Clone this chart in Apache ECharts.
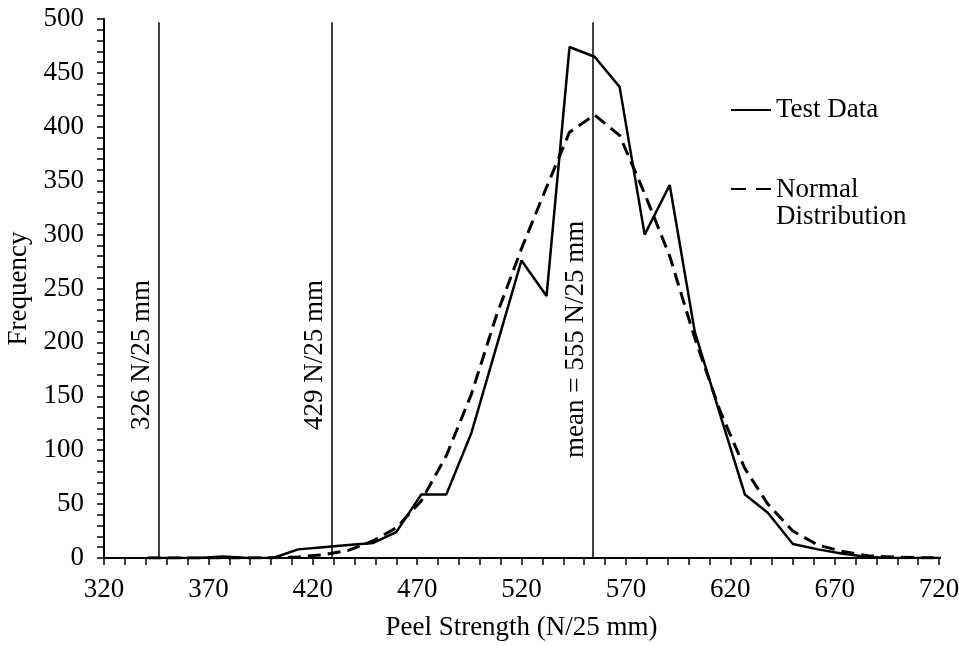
<!DOCTYPE html>
<html><head><meta charset="utf-8">
<script src="https://cdn.jsdelivr.net/npm/echarts@6/dist/echarts.min.js"></script>
<style>html,body{margin:0;padding:0;background:#fff}#c{width:959px;height:646px}</style>
</head><body><div id="c"></div>
<script>
const peelStrength = [341,353,365,377,389,401,413,425,437,449,460,472,484,496,508,520,532,543,555,567,579,591,603,615,627,638,650,662,674,686,698,710,722];
const testData = [0,0,0,1.5,0,0,8,10,12,14,24,59,59,116,196,276,243,474,465,437,300,346,210,134,59,42,13,8,4,1,0,0,0];
const normalData = [0,0,0,0,0.1,0.3,1,3,7,16,28,53,95,152,225,287,344,395,411,392,338,280,204,137,83,50,25,12,6,2,1,0.3,0.1];
const refLineX = [346, 429, 554];
const refLineTop = 497;
const refLabels = ['326 N/25 mm', '429 N/25 mm', 'mean = 555 N/25 mm'];
const refLabelOffset = [128, 128, 100];
const seriesNames = ['Test Data', 'Normal Distribution'];

const FONT = 'Liberation Serif';
const FS = 27;
const chart = echarts.init(document.getElementById('c'), null, {renderer: 'canvas'});

const pairs = (xs, ys) => xs.map((x, i) => [x, ys[i]]);

const axisCommon = {
  type: 'value',
  interval: 50,
  axisLine: {show: true, lineStyle: {color: '#000', width: 2}},
  axisTick: {show: true, inside: false, length: 7, lineStyle: {color: '#000', width: 1.5}},
  minorTick: {show: true, splitNumber: 5, length: 7, lineStyle: {color: '#000', width: 1.5}},
  splitLine: {show: false},
  axisLabel: {color: '#000', fontFamily: FONT, fontSize: FS},
  nameLocation: 'middle',
  nameTextStyle: {color: '#000', fontFamily: FONT, fontSize: FS}
};

chart.setOption({
  backgroundColor: '#fff',
  animation: false,
  grid: {left: 104, right: 20, top: 19, bottom: 88, containLabel: false, outerBoundsMode: 'none'},
  xAxis: Object.assign({}, axisCommon, {
    min: 320, max: 720,
    name: 'Peel Strength (N/25 mm)', nameGap: 56,
    axisLabel: Object.assign({}, axisCommon.axisLabel, {margin: 18})
  }),
  yAxis: Object.assign({}, axisCommon, {
    min: 0, max: 500,
    name: 'Frequency', nameGap: 65,
    axisLabel: Object.assign({}, axisCommon.axisLabel, {margin: 20})
  }),
  legend: {
    orient: 'vertical',
    left: 730, top: 96,
    padding: 0,
    itemWidth: 40, itemHeight: 14,
    itemGap: 23,
    itemStyle: {opacity: 0, borderWidth: 0},
    data: [
      {name: seriesNames[0]},
      {name: seriesNames[1], lineStyle: {type: [15, 10]}}
    ],
    textStyle: {
      color: '#000', fontFamily: FONT, fontSize: FS, lineHeight: 28,
      rich: {
        a: {fontFamily: FONT, fontSize: FS, lineHeight: 56, verticalAlign: 'bottom', color: '#000'},
        b: {fontFamily: FONT, fontSize: FS, lineHeight: 28, color: '#000'}
      }
    },
    formatter: function (name) {
      if (name === seriesNames[1]) return '{a|Normal}\n{b|Distribution}';
      return name;
    }
  },
  series: [
    {
      name: seriesNames[0],
      type: 'line',
      data: pairs(peelStrength, testData),
      showSymbol: false, symbol: 'none',
      lineStyle: {color: '#000', width: 2.5},
      itemStyle: {color: '#000'},
      z: 3,
      markLine: {
        silent: true,
        symbol: ['none', 'none'],
        lineStyle: {color: '#000', width: 1.5, type: 'solid'},
        data: refLineX.map((x, i) => [
          {coord: [x, 0], label: {show: true, formatter: refLabels[i], position: 'insideStartTop',
            distance: [refLabelOffset[i], 3], color: '#000', fontFamily: FONT, fontSize: FS}},
          {coord: [x, refLineTop]}
        ])
      }
    },
    {
      name: seriesNames[1],
      type: 'line',
      data: pairs(peelStrength, normalData),
      showSymbol: false, symbol: 'none',
      lineStyle: {color: '#000', width: 3, type: [13, 7]},
      itemStyle: {color: '#000'},
      z: 2
    }
  ]
});
</script></body></html>
